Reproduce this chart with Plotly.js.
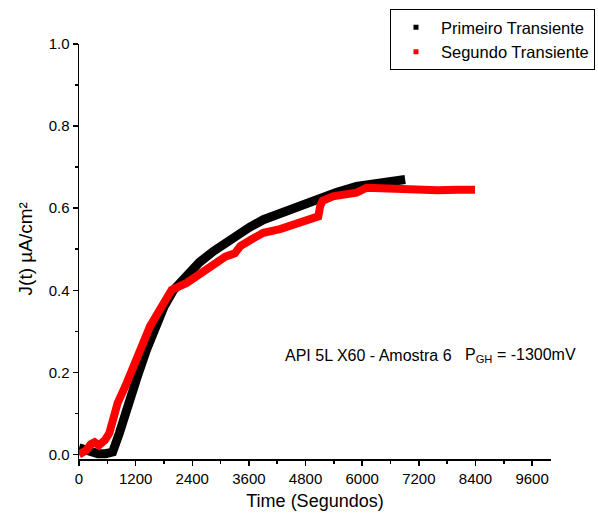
<!DOCTYPE html>
<html>
<head>
<meta charset="utf-8">
<script src="https://cdn.plot.ly/plotly-3.0.1.min.js"></script>
<style>html,body{margin:0;padding:0;background:#fff;}#chart{width:598px;height:526px;}</style>
</head>
<body>
<div id="chart"></div>
<script>
// Primeiro Transiente (black)
const t1 = [0, 120, 250, 400, 560, 713, 855, 996, 1100, 1250, 1430, 1610, 1800, 2000, 2282, 2550, 2846, 3100, 3341, 3620, 3906, 4259, 4612, 5071, 5450, 5880, 6300, 6600, 6910];
const j1 = [0.016, 0.012, 0.004, 0.002, 0.002, 0.006, 0.052, 0.108, 0.140, 0.195, 0.255, 0.310, 0.360, 0.400, 0.438, 0.468, 0.495, 0.516, 0.535, 0.554, 0.572, 0.588, 0.604, 0.621, 0.638, 0.653, 0.660, 0.665, 0.670];
// Segundo Transiente (red)
const t2 = [0, 150, 250, 330, 420, 550, 643, 713, 818, 1010, 1116, 1300, 1504, 1750, 1963, 2282, 2550, 2846, 3100, 3300, 3420, 3623, 3906, 4259, 4612, 4965, 5071, 5110, 5160, 5380, 5650, 5880, 6095, 6400, 6800, 7200, 7600, 8000, 8390];
const j2 = [0.000, 0.010, 0.025, 0.030, 0.022, 0.035, 0.052, 0.076, 0.125, 0.174, 0.206, 0.258, 0.312, 0.360, 0.401, 0.418, 0.440, 0.465, 0.482, 0.490, 0.508, 0.522, 0.540, 0.549, 0.564, 0.576, 0.580, 0.605, 0.618, 0.629, 0.634, 0.638, 0.650, 0.648, 0.645, 0.647, 0.644, 0.645, 0.645];
const seriesNames = ["Primeiro Transiente", "Segundo Transiente"];
const xTicks = [0, 1200, 2400, 3600, 4800, 6000, 7200, 8400, 9600];
const yTicks = [0.0, 0.2, 0.4, 0.6, 0.8, 1.0];

const FONT = "'Liberation Sans', Arial, sans-serif";

const traces = [
  {x: t1, y: j1, mode: 'lines', line: {color: '#000000', width: 9}, showlegend: false, hoverinfo: 'skip'},
  {x: t2, y: j2, mode: 'lines', line: {color: '#ff0000', width: 8}, showlegend: false, hoverinfo: 'skip'},
  {x: [null], y: [null], mode: 'markers', name: seriesNames[0], marker: {symbol: 'square', size: 5, color: '#000000'}},
  {x: [null], y: [null], mode: 'markers', name: seriesNames[1], marker: {symbol: 'square', size: 5, color: '#ff0000'}}
];

const layout = {
  width: 598, height: 526,
  margin: {l: 79, r: 47, t: 44, b: 67, pad: 0, autoexpand: false},
  paper_bgcolor: '#fff', plot_bgcolor: '#fff',
  font: {family: FONT, size: 16, color: '#000'},
  xaxis: {
    range: [0, 10000], showgrid: false, zeroline: false,
    showline: true, linecolor: '#000', linewidth: 1.5,
    ticks: 'outside', ticklen: 5, tickwidth: 1.5, tickcolor: '#000',
    tickvals: xTicks, ticktext: xTicks.map(String),
    minor: {dtick: 600, tick0: 0, ticks: 'outside', ticklen: 3, tickwidth: 1.5, tickcolor: '#000', showgrid: false},
    tickfont: {family: FONT, size: 15},
    title: {text: 'Time (Segundos)', font: {family: FONT, size: 18}, standoff: 9}
  },
  yaxis: {
    range: [-0.011, 1.0], showgrid: false, zeroline: false,
    showline: true, linecolor: '#000', linewidth: 1.5,
    ticks: 'outside', ticklen: 5, tickwidth: 1.5, tickcolor: '#000',
    tickvals: yTicks, ticktext: yTicks.map(v => v.toFixed(1)),
    minor: {dtick: 0.1, tick0: 0, ticks: 'outside', ticklen: 3, tickwidth: 1.5, tickcolor: '#000', showgrid: false},
    tickfont: {family: FONT, size: 15}
  },
  legend: {
    x: 1.0932, y: 1.084, xanchor: 'right', yanchor: 'top',
    bordercolor: '#000', borderwidth: 1, bgcolor: '#fff',
    font: {family: FONT, size: 16.5}, tracegroupgap: 0, itemwidth: 40
  },
  annotations: [
    {text: 'J(t) \u00b5A/cm\u00b2', textangle: -90, xref: 'paper', yref: 'y', x: -0.114, y: 0.50,
     xanchor: 'center', yanchor: 'middle', showarrow: false, font: {family: FONT, size: 19}},
    {text: 'API 5L X60 - Amostra 6', xref: 'x', yref: 'y', x: 4323, y: 0.24, xanchor: 'left', yanchor: 'middle',
     showarrow: false, font: {family: FONT, size: 16}},
    {text: 'P<sub>GH</sub> = -1300mV', xref: 'x', yref: 'y', x: 8137, y: 0.24, xanchor: 'left', yanchor: 'middle',
     showarrow: false, font: {family: FONT, size: 16}}
  ]
};

Plotly.newPlot('chart', traces, layout, {staticPlot: true, displayModeBar: false});
</script>
</body>
</html>
